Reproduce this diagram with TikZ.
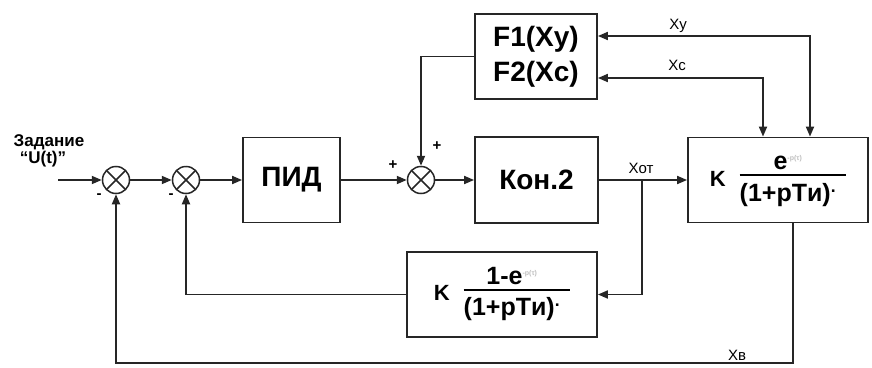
\documentclass[tikz,border=0pt]{standalone}
\usepackage{fontspec}
\setmainfont{Liberation Sans}
\usetikzlibrary{arrows.meta, positioning, calc}

\setlength{\arrayrulewidth}{2.2pt}
\newcommand{\blockfrac}[2]{\begin{tabular}{@{}c@{\hspace{10pt}}}#1\\[-4pt]\hline\rule{0pt}{25pt}#2\end{tabular}}
\newcommand{\expo}{\textsuperscript{\color{black!25}\fontsize{7}{8}\selectfont -p(τ)}}

\begin{document}
\begin{tikzpicture}[x=1pt, y=-1pt,
  line/.style={black!85, line width=1.8pt},
  arr/.style={line, -{Triangle[length=10pt, width=8pt]}},
  darr/.style={line, {Triangle[length=10pt, width=8pt]}-{Triangle[length=10pt, width=8pt]}},
  block/.style={draw=black!85, line width=1.8pt, fill=white, align=center, inner sep=2pt, font=\fontsize{28}{32}\selectfont\bfseries},
  fracblock/.style={block, font=\fontsize{25}{28}\selectfont\bfseries},
  sumnode/.style={circle, draw=black!85, line width=1.5pt, minimum size=27pt, inner sep=0pt,
    path picture={\draw[black!85, line width=1.5pt] (path picture bounding box.north west) -- (path picture bounding box.south east) (path picture bounding box.north east) -- (path picture bounding box.south west);}},
  sig/.style={font=\fontsize{15}{16}\selectfont\bfseries, inner sep=0pt},
  lbl/.style={font=\fontsize{15}{16}\selectfont, inner sep=0pt}
]
\useasboundingbox (0,0) rectangle (872,367);

% summing junctions
\node[sumnode] (s1) at (116,180) {};
\node[sumnode] (s2) at (186,180) {};
\node[sumnode] (s3) at (421,180) {};

% blocks
\node[block, minimum width=97pt, minimum height=85pt] (pid) at (291.5,180) {ПИД};
\node[block, minimum width=123pt, minimum height=86pt] (kon) at (536.5,180) {Кон.2};
\node[block, minimum width=122pt, minimum height=85pt, font=\fontsize{28}{35}\selectfont\bfseries] (F) at (536,56.5) {F1(Xy)\\F2(Xc)};
\node[fracblock, minimum width=180pt, minimum height=85pt] (plant) at (778,180)
  {{\fontsize{22}{24}\selectfont K}\hspace{14pt}\blockfrac{e\expo}{(1+pTи)\textsuperscript{.}}};
\node[fracblock, minimum width=190pt, minimum height=85pt] (fb) at (502,294.5)
  {{\fontsize{22}{24}\selectfont K}\hspace{14pt}\blockfrac{1-e\expo}{(1+pTи)\textsuperscript{.}}};

% input text
\node[sig, font=\fontsize{17}{18}\selectfont\bfseries] (task) at (49,142) {Задание};
\node[sig, font=\fontsize{17}{18}\selectfont\bfseries] (uin) at (43,159) {“U(t)”};

% coordinates of free ends and bends
\coordinate (in) at (58,180);
\coordinate (br) at (642,180);
\coordinate (xb) at (793,363);
\coordinate (xy) at (810,36);
\coordinate (xc) at (763,78);

% forward path
\draw[arr] (in) -- (s1);
\draw[arr] (s1) -- (s2);
\draw[arr] (s2) -- (pid);
\draw[arr] (pid) -- (s3);
\draw[arr] (s3) -- (kon);
\draw[arr] (kon) -- (plant);

% feedback paths
\draw[arr] (br) |- (fb.east);
\draw[arr] (fb.west) -| (s2.south);
\draw[arr] (plant.south -| xb) -- (xb) -| (s1.south);
\draw[darr] (plant.north -| xy) |- (F.east |- xy);
\draw[darr] (plant.north -| xc) |- (F.east |- xc);
\draw[arr] (F.west) -| (s3.north);

% signs and signal labels
\node[sig] (m1) at (99,196) {-};
\node[sig] (m2) at (171,196) {-};
\node[sig] (p1) at (437,146) {+};
\node[sig] (p2) at (393,165) {+};
\node[lbl] (lxy) at (678,26) {Xy};
\node[lbl] (lxc) at (677,65) {Xc};
\node[lbl] (lxot) at (641,168) {Xот};
\node[lbl] (lxb) at (737,355) {Xв};
\end{tikzpicture}
\end{document}
